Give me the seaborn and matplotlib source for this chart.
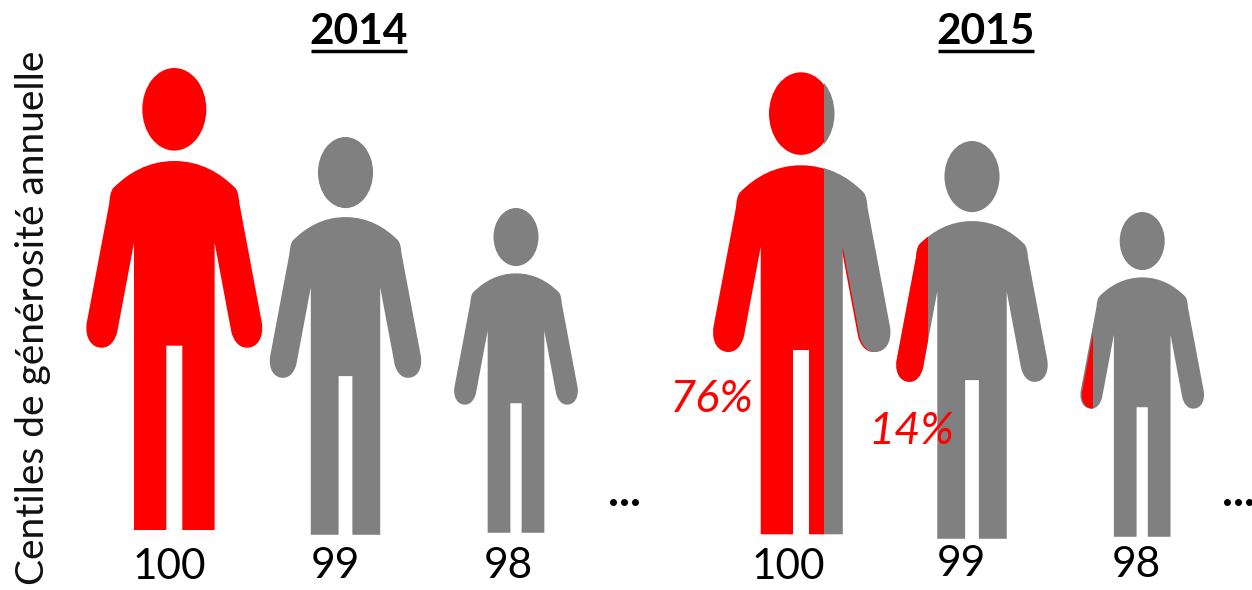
import matplotlib
matplotlib.use("Agg")
import matplotlib.pyplot as plt
from matplotlib.path import Path
from matplotlib.patches import PathPatch, Ellipse, Rectangle
import seaborn as sns

sns.set_theme(style="white")
plt.rcParams['font.family'] = ['Lato', 'DejaVu Sans']

# --- chart content ---
years = ["2014", "2015"]
centiles = ["100", "99", "98"]
relative_size = [1.0, 0.861, 0.703]
share_labels_2015 = ["76%", "14%"]
y_title = "Centiles de générosité annuelle"

RED = "#ff0000"
GREY = "#808080"

# --- layout (pixels of the 1252x590 canvas) ---
title_x = {"2014": 359, "2015": 986}
person_cx = {"2014": [174.3, 345.5, 516.0], "2015": [802.5, 972.0, 1142.2]}
person_top = {"2014": [68, 137, 208], "2015": [72.3, 141, 212]}
label_x = {"2014": [169, 335, 508], "2015": [788, 961, 1136]}
label_y = {"2014": [567, 566, 566], "2015": [567, 564, 565]}
dots_x = {"2014": 625, "2015": 1238}
share_pos = [(712, 399), (911, 431)]

fig = plt.figure(figsize=(12.52, 5.90), dpi=100)
ax = fig.add_axes([0, 0, 1, 1])
ax.set_xlim(0, 1252)
ax.set_ylim(590, 0)
sns.despine(ax=ax, left=True, bottom=True)
ax.set_axis_off()

# half outline of the pictogram, for a figure 462 px high
M, L, C = Path.MOVETO, Path.LINETO, Path.CURVE4
half = [
    (L, (-40.3, 462)), (L, (-40.3, 174.7)), (L, (-57, 263.7)),
    (C, (-59, 272)), (C, (-64, 279.7)), (C, (-72.6, 279.7)),
    (C, (-83, 279.7)), (C, (-89.5, 270)), (C, (-87.6, 255)),
    (L, (-65, 135)),
    (C, (-64.5, 128)), (C, (-63.5, 123)), (C, (-61, 120)),
    (C, (-46, 105)), (C, (-26, 93)), (C, (0, 93)),
]


def body_path(cx, top, k):
    verts = [(-8, 277.7), (-8, 462)]
    codes = [M, L]
    for code, v in half:
        verts.append(v)
        codes.append(code)
    pts = [(-8, 462)] + [v for _, v in half]
    cds = [c for c, _ in half]
    for i in range(len(half) - 1, -1, -1):
        verts.append((-pts[i][0], pts[i][1]))
        codes.append(cds[i])
    verts += [(8, 277.7), (-8, 277.7)]
    codes += [L, L]
    return Path([(cx + x * k, top + y * k) for x, y in verts], codes)


def person(cx, top, k, color, clip=None, z=2):
    parts = [
        PathPatch(body_path(cx, top, k), fc=color, ec="none", zorder=z),
        Ellipse((cx, top + 41.3 * k), 64 * k, 82.6 * k, fc=color, ec="none", zorder=z),
    ]
    for p in parts:
        ax.add_patch(p)
        if clip is not None:
            x0, x1, y0, y1 = clip
            p.set_clip_path(Rectangle((x0, y0), x1 - x0, y1 - y0, transform=ax.transData))


# 2014
for i, k in enumerate(relative_size):
    person(person_cx["2014"][i], person_top["2014"][i], k, RED if i == 0 else GREY)

# 2015: red part of each figure
cx, top = person_cx["2015"], person_top["2015"]
person(cx[0] - 1.5, top[0], relative_size[0], RED, clip=(0, 824, 0, 590), z=2)
person(cx[0] - 1.5, top[0], relative_size[0], RED, clip=(824, 1252, 0, 360), z=2)
person(cx[0], top[0], relative_size[0], GREY, clip=(824, 1252, 0, 590), z=3)
person(cx[1], top[1], relative_size[1], GREY, z=2)
person(cx[1], top[1], relative_size[1], RED, clip=(0, 928, 0, 590), z=3)
person(cx[2], top[2], relative_size[2], GREY, z=2)
person(cx[2] + 1.5, top[2], relative_size[2], RED, clip=(0, 1093, 0, 590), z=3)

# titles, labels
for year in years:
    ax.text(title_x[year], 32, year, fontsize=30.5, fontweight="bold",
            ha="center", va="center", color="black", zorder=5)
    ax.plot([title_x[year] - 48, title_x[year] + 48], [50.5, 50.5], color="black",
            lw=2.5, solid_capstyle="butt", zorder=5)
    for i, lab in enumerate(centiles):
        ax.text(label_x[year][i], label_y[year][i], lab, fontsize=30.5,
                ha="center", va="center", color="black", zorder=5)
    ax.text(dots_x[year], 493, "...", fontsize=33, fontweight="bold",
            ha="center", va="center", color="black", zorder=5)

for (x, y), s in zip(share_pos, share_labels_2015):
    ax.text(x, y, s, fontsize=32.5, fontstyle="italic", color=RED,
            ha="center", va="center", zorder=6)

ax.text(33, 318, y_title, fontsize=28, rotation=90, ha="center", va="center",
        color="#111111", zorder=5)

fig.savefig("out.png", dpi=100)
